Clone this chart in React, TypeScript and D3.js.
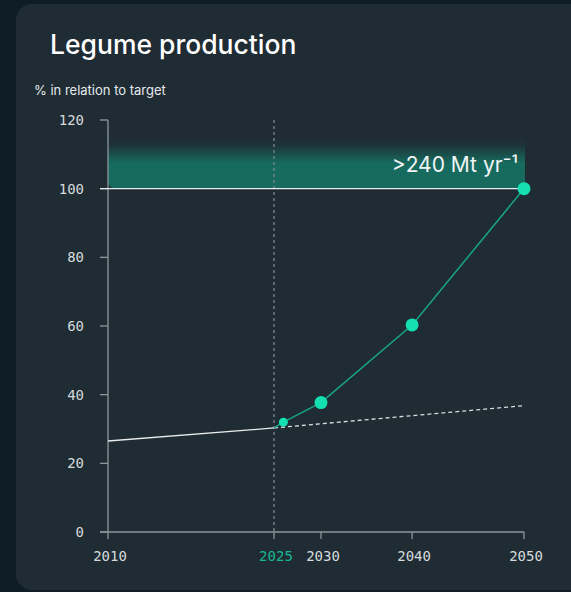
import React from "react";
import * as d3 from "d3";

const historicalYears = [2010, 2025];
const historicalValues = [26.5, 30.3];
const projectionYears = [2025, 2050];
const projectionValues = [30.3, 36.8];
const targetYears = [2025, 2026, 2030, 2040, 2050];
const targetValues = [30.3, 32, 37.7, 60.3, 100];
const dotRadius = [0, 4.5, 6.5, 6.5, 6.5];
const xTicks = [2010, 2025, 2030, 2040, 2050];
const xTickPos = [0, 0.399, 0.512, 0.731, 1];
const yTicks = [0, 20, 40, 60, 80, 100, 120];
const targetLabel = ">240 Mt yr⁻¹";

export default function App() {
  const W = 571, H = 592;
  const left = 108, right = 524, top = 120, bottom = 532;
  const x = d3.scaleLinear().domain(xTicks).range(xTickPos.map((p) => left + p * (right - left)));
  const y = d3.scaleLinear().domain([0, 120]).range([bottom, top]);
  const line = d3.line<[number, number]>().x((d) => x(d[0])).y((d) => y(d[1]));
  const hist = historicalYears.map((v, i) => [v, historicalValues[i]] as [number, number]);
  const proj = projectionYears.map((v, i) => [v, projectionValues[i]] as [number, number]);
  const targ = targetYears.map((v, i) => [v, targetValues[i]] as [number, number]);
  const mono = "'DejaVu Sans Mono', monospace";
  const sans = "Inter, 'Noto Sans', sans-serif";
  const axisCol = "#8c979c";
  const bandTop = y(115);
  const bandBot = y(100);
  const bx0 = left, bx1 = x(2050) + 1;
  const r = 9;
  const bandPath = `M${bx0},${bandTop} L${bx1},${bandTop} L${bx1},${bandBot - 4} Q${bx1},${bandBot} ${bx1 - 4},${bandBot} L${bx0 + r},${bandBot} Q${bx0},${bandBot} ${bx0},${bandBot - r} Z`;
  return (
    <svg width={W} height={H} style={{ position: "absolute", left: 0, top: 0, display: "block" }}>
      <defs>
        <linearGradient id="band" x1="0" y1="0" x2="0" y2="1">
          <stop offset="0" stopColor="#176a5e" stopOpacity="0" />
          <stop offset="0.15" stopColor="#176a5e" stopOpacity="0.1" />
          <stop offset="0.5" stopColor="#176a5e" stopOpacity="1" />
          <stop offset="1" stopColor="#176a5e" stopOpacity="1" />
        </linearGradient>
      </defs>
      <rect x={0} y={0} width={W} height={H} fill="#0f1e25" />
      <rect x={16} y={4} width={W + 20} height={586} rx={16} fill="#1f2c34" />
      <text x={50} y={54} fill="#ffffff" fontFamily={sans} fontSize={26.5} fontWeight={500}>Legume production</text>
      <text x={34} y={95} fill="#e6eaec" fontFamily={sans} fontSize={13}>% in relation to target</text>
      <path d={bandPath} fill="url(#band)" />
      <text x={x(2050) - 6} y={y(104.9)} textAnchor="end" fill="#f2f5f5" fontFamily={sans} fontSize={21} fontWeight={400}>{targetLabel}</text>
      {/* y axis */}
      <line x1={left} x2={left} y1={top} y2={bottom} stroke={axisCol} strokeWidth={1.3} />
      {yTicks.map((t) => (
        <g key={t}>
          <line x1={left - 8} x2={left} y1={y(t)} y2={y(t)} stroke={axisCol} strokeWidth={1.3} />
          <text x={84} y={y(t)} dy="0.35em" textAnchor="end" fill="#d6dadc" fontFamily={mono} fontSize={14}>{t}</text>
        </g>
      ))}
      {/* x axis */}
      <line x1={left - 8} x2={right} y1={bottom} y2={bottom} stroke={axisCol} strokeWidth={1.3} />
      {xTicks.map((t) => (
        <g key={t}>
          <line x1={x(t)} x2={x(t)} y1={bottom} y2={bottom + 7} stroke={axisCol} strokeWidth={1.3} />
          <text x={x(t) + 2} y={bottom + 29} textAnchor="middle" fill={t === 2025 ? "#16b894" : "#d6dadc"} fontFamily={mono} fontSize={14}>{t}</text>
        </g>
      ))}
      {/* 2025 divider */}
      <line x1={x(2025)} x2={x(2025)} y1={top} y2={bottom} stroke="#7d878c" strokeWidth={1.3} strokeDasharray="3 3" />
      {/* target line */}
      <line x1={left - 8} x2={x(2050)} y1={y(100)} y2={y(100)} stroke="#e8ecec" strokeWidth={1.3} />
      <path d={line(hist) || ""} fill="none" stroke="#e8ecec" strokeWidth={1.3} />
      <path d={line(proj) || ""} fill="none" stroke="#d8dcdc" strokeWidth={1.3} strokeDasharray="4 3" />
      <path d={line(targ) || ""} fill="none" stroke="#17a585" strokeWidth={1.5} />
      {targ.map((d, i) =>
        dotRadius[i] > 0 ? <circle key={i} cx={x(d[0])} cy={y(d[1])} r={dotRadius[i]} fill="#14e0b2" /> : null
      )}
    </svg>
  );
}
